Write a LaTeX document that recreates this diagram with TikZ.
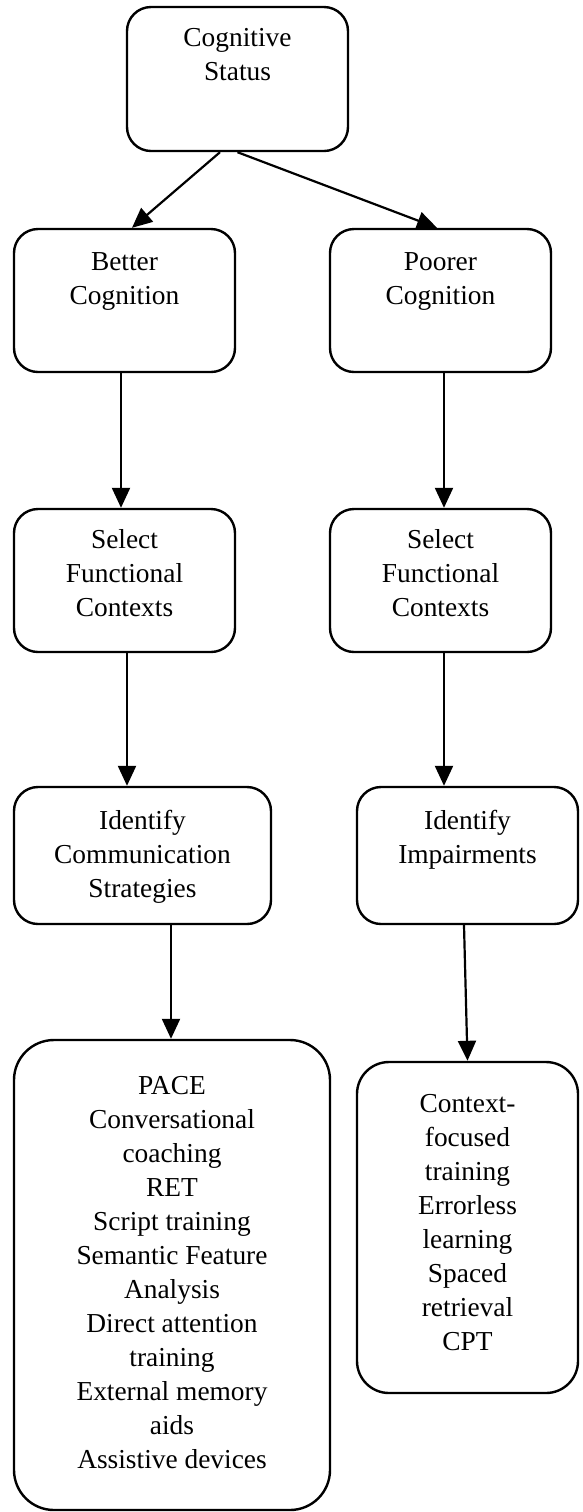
\documentclass[tikz,border=0pt]{standalone}
\usepackage{fontspec}
\setmainfont{Liberation Serif}
\usepackage{tikz}
\usetikzlibrary{arrows.meta}

\begin{document}
\begin{tikzpicture}[x=0.5pt, y=-0.5pt,
            stepbox/.style={draw, line width=1.2pt, rounded corners=12pt, inner sep=0pt},
            boxtext/.style={anchor=north, align=center, inner sep=0pt, font=\fontsize{13.7}{17}\selectfont},
            flow/.style={line width=1.1pt, -{Triangle[length=10pt, width=9pt]}}]
            \useasboundingbox (0,0) rectangle (583,1512);

            % Top box
            \node[stepbox, minimum width=110.5pt, minimum height=72pt] (status) at (237.5,79) {};
            \node[boxtext] (statusT) at ([yshift=-11.2pt]status.north) {Cognitive\\Status};

            % Two branches
            \node[stepbox, minimum width=110.5pt, minimum height=71.5pt] (better) at (124.5,300.5) {};
            \node[boxtext] (betterT) at ([yshift=-12.2pt]better.north) {Better\\Cognition};
            \node[stepbox, minimum width=110.5pt, minimum height=71.5pt] (poorer) at (440.5,300.5) {};
            \node[boxtext] (poorerT) at ([yshift=-12.2pt]poorer.north) {Poorer\\Cognition};

            % Functional contexts
            \node[stepbox, minimum width=110.5pt, minimum height=71.5pt] (selectL) at (124.5,580.5) {};
            \node[boxtext] (selectLT) at ([yshift=-10.7pt]selectL.north) {Select\\Functional\\Contexts};
            \node[stepbox, minimum width=110.5pt, minimum height=71.5pt] (selectR) at (440.5,580.5) {};
            \node[boxtext] (selectRT) at ([yshift=-10.7pt]selectR.north) {Select\\Functional\\Contexts};

            % Identify
            \node[stepbox, minimum width=128.5pt, minimum height=68.5pt] (identL) at (142.5,855.5) {};
            \node[boxtext] (identLT) at ([yshift=-12.2pt]identL.north) {Identify\\Communication\\Strategies};
            \node[stepbox, minimum width=110.5pt, minimum height=68.5pt] (identR) at (467.5,855.5) {};
            \node[boxtext] (identRT) at ([yshift=-12.2pt]identR.north) {Identify\\Impairments};

            % Treatments
            \node[stepbox, rounded corners=20pt, minimum width=158pt, minimum height=235pt] (treatL) at (172,1275) {};
            \node[boxtext] (treatLT) at ([yshift=-18.4pt]treatL.north) {PACE\\Conversational\\coaching\\RET\\Script training\\Semantic Feature\\Analysis\\Direct attention\\training\\External memory\\aids\\Assistive devices};
            \node[stepbox, rounded corners=16pt, minimum width=110.5pt, minimum height=165.5pt] (treatR) at (467.5,1227.5) {};
            \node[boxtext] (treatRT) at ([yshift=-16.4pt]treatR.north) {Context-\\focused\\training\\Errorless\\learning\\Spaced\\retrieval\\CPT};

            % Arrows
            \draw[flow] ([xshift=-8.75pt]status.south) -- ([xshift=3.75pt]better.north);
            \draw[flow] (status.south) -- ([xshift=-1.75pt]poorer.north);
            \draw[flow] ([xshift=-1.75pt]better.south) -- ([xshift=-1.75pt]selectL.north);
            \draw[flow] ([xshift=1.75pt]poorer.south) -- ([xshift=1.75pt]selectR.north);
            \draw[flow] ([xshift=1.25pt]selectL.south) -- ([xshift=-7.75pt]identL.north);
            \draw[flow] ([xshift=1.75pt]selectR.south) -- ([xshift=-11.75pt]identR.north);
            \draw[flow] ([xshift=14.25pt]identL.south) -- ([xshift=-0.5pt]treatL.north);
            \draw[flow] ([xshift=-1.75pt]identR.south) -- (treatR.north);
\end{tikzpicture}
\end{document}
